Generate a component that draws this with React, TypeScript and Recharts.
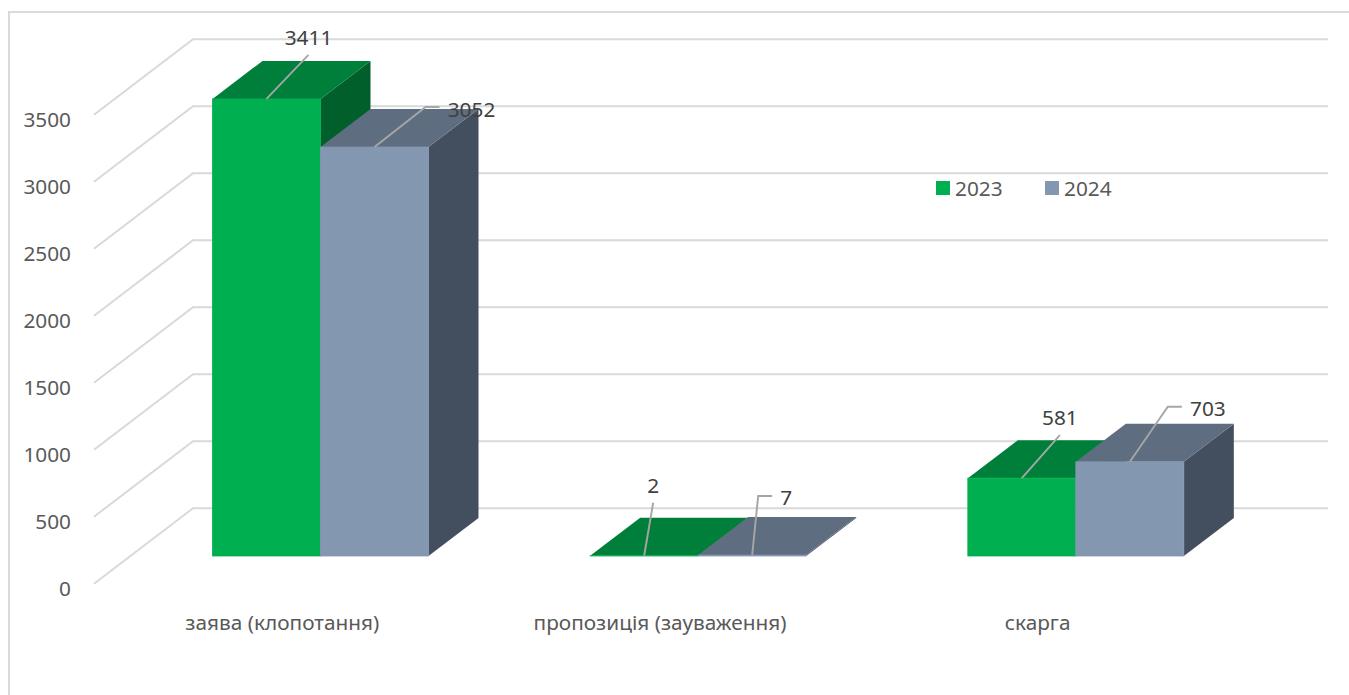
import { BarChart, Bar, XAxis, YAxis, CartesianGrid, Legend, LabelList } from "recharts";

const categories = ["заява (клопотання)", "пропозиція (зауваження)", "скарга"];
const values2023 = [3411, 2, 581];
const values2024 = [3052, 7, 703];
const yTicks = [0, 500, 1000, 1500, 2000, 2500, 3000, 3500];

const data = categories.map((name, i) => ({ name, y2023: values2023[i], y2024: values2024[i] }));

// fake 3D depth of the boxes and of the walls behind them
const DEPTH_X = 50;
const DEPTH_Y = 38;
const WALL_LEFT = 94;
const WALL_BACK = 193;
const WALL_RIGHT = 1328;
const WALL_FRONT_DY = 27.7;
const WALL_BACK_DY = -47.7;

const FONT = "'Noto Sans', sans-serif";
const FONT_SIZE = 20.8;

// leader lines: [elbow dx, elbow dy, tail length, label dx, label dy]
const leaders2023 = [
  [42, -44, 0, 42, -62],
  [9, -53, 0, 9, -71],
  [38, -43, 0, 38, -61],
];
const leaders2024 = [
  [51, -40, 14, 97, -38],
  [6, -59, 14, 34, -58],
  [38, -55, 14, 78, -54],
];

function Box3D({ x, y, width, height, fill, top, side }: any) {
  const bottom = y + height;
  const right = x + width;
  return (
    <g>
      <polygon
        points={`${right},${y} ${right + DEPTH_X},${y - DEPTH_Y} ${right + DEPTH_X},${bottom - DEPTH_Y} ${right},${bottom}`}
        fill={side}
      />
      <polygon
        points={`${x},${y} ${x + DEPTH_X},${y - DEPTH_Y} ${right + DEPTH_X},${y - DEPTH_Y} ${right},${y}`}
        fill={top}
      />
      <rect x={x} y={y} width={width} height={height} fill={fill} stroke={fill} strokeWidth={0.8} />
    </g>
  );
}

function leaderLabel(leaders: number[][]) {
  return (props: any) => {
    const { x, y, index, value } = props;
    const [ex, ey, tail, lx, ly] = leaders[index];
    const sx = x + 54;
    const points = `${sx},${y} ${sx + ex},${y + ey} ${sx + ex + tail},${y + ey}`;
    return (
      <g>
        <polyline points={points} fill="none" stroke="#a6a6a6" strokeWidth={1.9} />
        <text
          x={sx + lx}
          y={y + ly}
          textAnchor="middle"
          dominantBaseline="central"
          fontFamily={FONT}
          fontSize={FONT_SIZE}
          fill="#404040"
        >
          {value}
        </text>
      </g>
    );
  };
}

function GridLine({ y1 }: any) {
  return (
    <polyline
      points={`${WALL_LEFT},${y1 + WALL_FRONT_DY} ${WALL_BACK},${y1 + WALL_BACK_DY} ${WALL_RIGHT},${y1 + WALL_BACK_DY}`}
      fill="none"
      stroke="#d9d9d9"
      strokeWidth={2}
    />
  );
}

function YTick({ y, payload }: any) {
  return (
    <text x={71} y={y + 31.5} textAnchor="end" dominantBaseline="central" fontFamily={FONT} fontSize={FONT_SIZE} fill="#595959">
      {payload.value}
    </text>
  );
}

function XTick({ x, payload }: any) {
  return (
    <text x={x - 38} y={622} textAnchor="middle" dominantBaseline="central" fontFamily={FONT} fontSize={FONT_SIZE} fill="#595959">
      {payload.value}
    </text>
  );
}

function LegendRow({ payload }: any) {
  return (
    <div style={{ display: "flex", fontFamily: FONT, fontSize: FONT_SIZE, color: "#595959", lineHeight: "24px" }}>
      {(payload || []).map((item: any) => (
        <div key={item.value} style={{ display: "flex", alignItems: "center", width: 109 }}>
          <span style={{ width: 14, height: 14, background: item.color, marginRight: 5 }} />
          {item.value}
        </div>
      ))}
    </div>
  );
}

export default function App() {
  return (
    <div style={{ position: "absolute", left: 0, top: 0, width: 1349, height: 695, overflow: "hidden", background: "#fff" }}>
      <div
        style={{
          position: "absolute",
          left: 8,
          top: 11,
          width: 1341,
          height: 684,
          borderLeft: "2px solid #d9d9d9",
          borderTop: "2px solid #d9d9d9",
        }}
      />
      <BarChart
        width={1349}
        height={695}
        data={data}
        barSize={108}
        barGap={0}
        barCategoryGap={0}
        margin={{ top: 87, right: 84.5, bottom: 138, left: 130.5 }}
        style={{ position: "absolute", left: 0, top: 0 }}
      >
        <CartesianGrid vertical={false} horizontal={(props: any) => <GridLine key={props.index} {...props} />} />
        <XAxis dataKey="name" height={1} axisLine={false} tickLine={false} interval={0} tick={<XTick />} />
        <YAxis width={1} domain={[0, 3500]} ticks={yTicks} axisLine={false} tickLine={false} tick={<YTick />} />
        <Legend
          layout="horizontal"
          verticalAlign="middle"
          align="center"
          wrapperStyle={{ left: 936, top: 176, width: 220 }}
          content={<LegendRow />}
        />
        <Bar
          dataKey="y2023"
          name="2023"
          fill="#00b050"
          isAnimationActive={false}
          shape={(p: any) => <Box3D {...p} top="#007f3a" side="#005f2b" />}
        >
          <LabelList dataKey="y2023" content={leaderLabel(leaders2023)} />
        </Bar>
        <Bar
          dataKey="y2024"
          name="2024"
          fill="#8497b0"
          isAnimationActive={false}
          shape={(p: any) => <Box3D {...p} top="#5f6d80" side="#434f5f" />}
        >
          <LabelList dataKey="y2024" content={leaderLabel(leaders2024)} />
        </Bar>
      </BarChart>
    </div>
  );
}
